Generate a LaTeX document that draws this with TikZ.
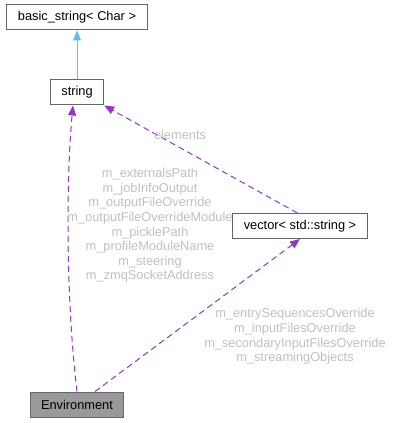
\documentclass[tikz,border=0pt]{standalone}
\usepackage{fontspec}
\setmainfont{Liberation Sans}
\usetikzlibrary{arrows.meta}

\definecolor{edgeblue}{HTML}{63B8FF}
\definecolor{edgepurple}{HTML}{9A32CD}
\definecolor{boxgray}{HTML}{666666}
\definecolor{curgray}{HTML}{999999}
\definecolor{lblgray}{HTML}{C0C0C0}

\begin{document}
\begin{tikzpicture}[x=0.75pt, y=-0.75pt,
  font=\fontsize{9.6}{10.95}\selectfont,
  cls/.style={draw=boxgray, fill=white, line width=0.75pt, inner xsep=8.25pt,
    minimum height=18.75pt, inner ysep=0pt},
  cur/.style={cls, fill=curgray},
  inh/.style={draw=edgeblue, line width=0.75pt, -{Triangle[length=7.5pt, width=6pt]}},
  use/.style={draw=edgepurple, line width=0.75pt, dash pattern=on 4.5pt off 3pt,
    -{Triangle[length=7.5pt, width=6pt]}},
  lbl/.style={text=lblgray, align=center, inner sep=0pt}]
  \useasboundingbox (0,0) rectangle (393,423);

  \node[cls] (bstr) at (77,17.5) {basic\_string< Char >};
  \node[cls] (str) at (77,92.5) {string};
  \node[cls] (vec) at (300,226) {vector< std::string >};
  \node[cur] (env) at (77,404.5) {Environment};

  \draw[inh] (str) -- (bstr);
  \draw[use] (env.north) .. controls (66,300) and (66,180) .. ([xshift=-3pt]str.south);
  \draw[use] ([xshift=-2pt]vec.north) -- (str.south east);
  \draw[use] ([xshift=13.5pt]env.north) -- (vec.south);

  \node[lbl] (lelem) at (180,135) {elements};
  \node[lbl] (lenv) at (150,225.5) {m\_externalsPath\\m\_jobInfoOutput\\m\_outputFileOverride\\m\_outputFileOverrideModule\\m\_picklePath\\m\_profileModuleName\\m\_steering\\m\_zmqSocketAddress};
  \node[lbl] (lvec) at (295,336.5) {m\_entrySequencesOverride\\m\_inputFilesOverride\\m\_secondaryInputFilesOverride\\m\_streamingObjects};
\end{tikzpicture}
\end{document}
